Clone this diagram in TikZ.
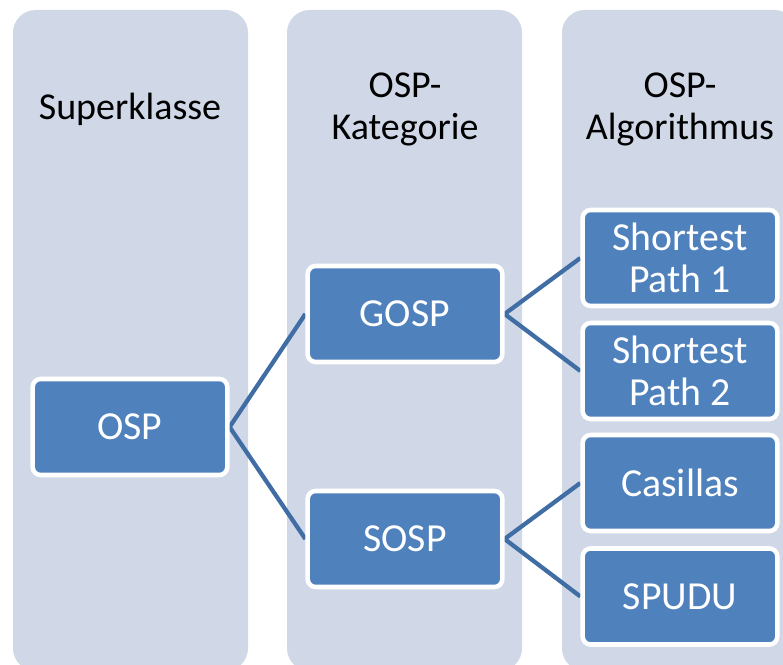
\documentclass[tikz,border=0pt]{standalone}
\usepackage{fontspec}
\setmainfont{Carlito}
\usepackage{tikz}
\usetikzlibrary{backgrounds}
\definecolor{laneBg}{HTML}{D0D8E8}
\definecolor{boxBlue}{HTML}{4F81BD}
\definecolor{linkBlue}{HTML}{3F6DA4}

\begin{document}
\begin{tikzpicture}[x=0.75pt,y=0.75pt,
  lane/.style={fill=laneBg,rounded corners=17pt},
  heading/.style={align=center,font=\fontsize{28.5}{31.5}\selectfont,text=black},
  item/.style={draw=white,line width=3.4pt,fill=boxBlue,rounded corners=6pt,
               minimum width=146pt,minimum height=72pt,align=center,
               text=white,font=\fontsize{29.8}{31.5}\selectfont},
  link/.style={draw=linkBlue,line width=3.2pt}]
\useasboundingbox (0,0) rectangle (783,665);

% column headings
\node[heading] (hSup) at (130,556) {Superklasse};
\node[heading] (hKat) at (405,556) {OSP-\\Kategorie};
\node[heading] (hAlg) at (680,556) {OSP-\\Algorithmus};

% boxes
\node[item] (OSP)  at (130,238) {OSP};
\node[item] (GOSP) at (405,351) {GOSP};
\node[item] (SOSP) at (405,126) {SOSP};
\node[item] (SP1)  at (680,407) {Shortest\\Path 1};
\node[item] (SP2)  at (680,294) {Shortest\\Path 2};
\node[item] (CAS)  at (680,182) {Casillas};
\node[item] (SPU)  at (680,68.5) {SPUDU};

\begin{scope}[on background layer]
  \foreach \x in {13,287,562}
    \path[lane] (\x,-6) rectangle ++(235,661);
  \foreach \a/\b in {OSP/GOSP,OSP/SOSP,GOSP/SP1,GOSP/SP2,SOSP/CAS,SOSP/SPU}
    \draw[link] (\a.east) -- (\b.west);
\end{scope}
\end{tikzpicture}
\end{document}
